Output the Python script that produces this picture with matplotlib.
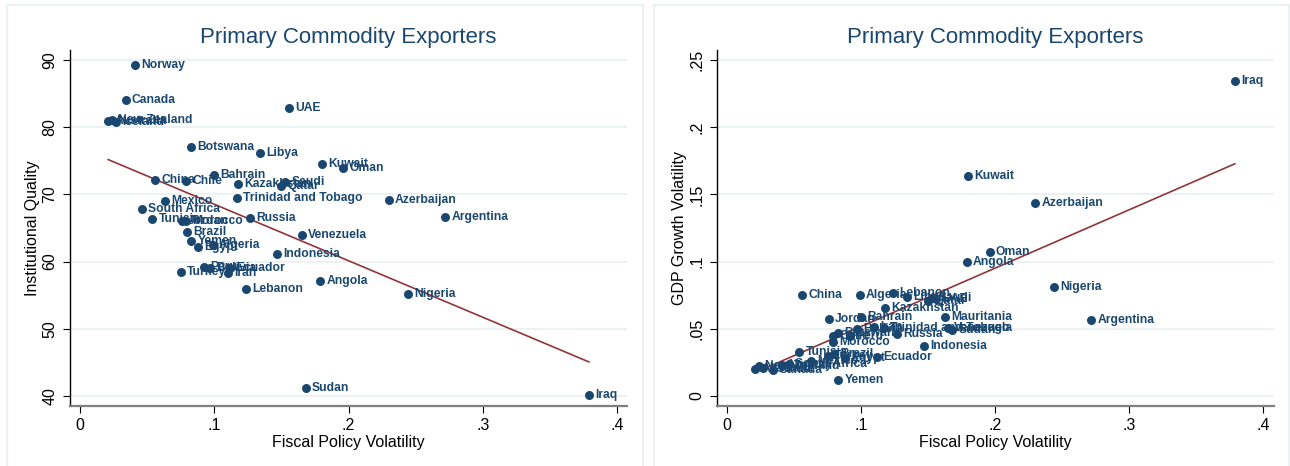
import numpy as np
import matplotlib
matplotlib.use("Agg")
import matplotlib.pyplot as plt
from matplotlib.patches import Rectangle

countries = ["Norway", "Canada", "Australia", "New Zealand", "Iceland", "UAE", "Botswana",
             "Libya", "Kuwait", "Oman", "China", "Chile", "Bahrain", "Kazakhstan", "Saudi",
             "Qatar", "Trinidad and Tobago", "Azerbaijan", "Argentina", "Mexico",
             "South Africa", "Tunisia", "Jordan", "Morocco", "Russia", "Brazil", "Venezuela",
             "Yemen", "Algeria", "Egypt", "Indonesia", "Peru", "Bolivia", "Ecuador",
             "Turkey", "Iran", "Lebanon", "Angola", "Nigeria", "Sudan", "Iraq", "Mauritania"]

fiscal_vol = [0.041, 0.034, 0.021, 0.024, 0.027, 0.156, 0.083,
              0.134, 0.180, 0.196, 0.056, 0.079, 0.100, 0.118, 0.153,
              0.150, 0.117, 0.230, 0.272, 0.063,
              0.046, 0.054, 0.076, 0.079, 0.127, 0.080, 0.165,
              0.083, 0.099, 0.088, 0.147, 0.092, 0.097, 0.112,
              0.075, 0.110, 0.124, 0.179, 0.244, 0.168, 0.379, 0.163]

inst_quality = [89.3, 84.0, 80.9, 81.0, 80.7, 82.9, 77.1,
                76.2, 74.5, 73.9, 72.1, 72.0, 72.9, 71.5, 71.8,
                71.2, 69.5, 69.2, 66.6, 69.0,
                67.9, 66.3, 66.1, 66.0, 66.5, 64.4, 64.0,
                63.1, 62.4, 62.1, 61.1, 59.2, 59.1, 59.0,
                58.4, 58.3, 55.9, 57.1, 55.2, 41.2, 40.1, np.nan]

gdp_vol = [0.023, 0.019, 0.020, 0.022, 0.021, 0.072, 0.047,
           0.074, 0.164, 0.107, 0.075, 0.045, 0.059, 0.0655, 0.073,
           0.071, 0.0506, 0.1436, 0.0565, 0.026,
           0.024, 0.0327, 0.057, 0.040, 0.046, 0.031, 0.0505,
           0.012, 0.075, 0.028, 0.037, 0.045, 0.050, 0.029,
           0.030, 0.051, 0.077, 0.0997, 0.081, 0.049, 0.2346, 0.0588]

# linear fit coefficients (intercept, slope)
fit_inst = (76.95, -84.1)
fit_gdp = (0.0083, 0.434)

x_ticks = [0, 0.1, 0.2, 0.3, 0.4]
x_tick_labels = ["0", ".1", ".2", ".3", ".4"]
inst_ticks = [40, 50, 60, 70, 80, 90]
inst_tick_labels = ["40", "50", "60", "70", "80", "90"]
gdp_ticks = [0, 0.05, 0.1, 0.15, 0.2, 0.25]
gdp_tick_labels = ["0", ".05", ".1", ".15", ".2", ".25"]

title = "Primary Commodity Exporters"
xlabel = "Fiscal Policy Volatility"
ylabel_left = "Institutional Quality"
ylabel_right = "GDP Growth Volatility"

NAVY = "#1a476f"
MAROON = "#90353b"
GRID = "#eaf2f3"
FONT = "Liberation Sans"

W, H = 1290, 466
fig = plt.figure(figsize=(W / 100, H / 100), dpi=100)
fig.patch.set_facecolor("white")

# panel borders
for (x0, x1) in [(7, 643), (654, 1289)]:
    fig.patches.append(Rectangle((x0 / W, -0.02), (x1 - x0) / W, (H - 5) / H + 0.02,
                                 transform=fig.transFigure, fill=False,
                                 edgecolor=GRID, lw=1.5))


def make_panel(left_px, right_px, y, ticks, tick_labels, ylim, fit, ylabel, xlim):
    ax = fig.add_axes([left_px / W, (H - 406) / H, (right_px - left_px) / W, (406 - 50) / H])
    ax.set_xlim(*xlim)
    ax.set_ylim(*ylim)
    x = np.asarray(fiscal_vol, float)
    yy = np.asarray(y, float)
    ok = ~np.isnan(yy)
    ax.scatter(x[ok], yy[ok], s=42, color=NAVY, zorder=3, linewidths=0)
    for name, xi, yi in zip(countries, x, yy):
        if np.isnan(yi):
            continue
        ax.annotate(name, (xi, yi), xytext=(4.5, 0), textcoords="offset points",
                    va="center", ha="left", fontsize=8.7, color=NAVY,
                    family=FONT, fontweight="bold", zorder=4)
    xs = np.array([x[ok].min(), x[ok].max()])
    ax.plot(xs, fit[0] + fit[1] * xs, color=MAROON, lw=1.2, zorder=2)
    ax.set_xticks(x_ticks)
    ax.set_xticklabels(x_tick_labels, family=FONT, fontsize=11.5)
    ax.set_yticks(ticks)
    ax.set_yticklabels(tick_labels, family=FONT, fontsize=11.5, rotation=90, va="center")
    ax.yaxis.grid(True, color=GRID, lw=1.5, zorder=0)
    ax.set_axisbelow(True)
    for s in ("top", "right"):
        ax.spines[s].set_visible(False)
    ax.spines["left"].set_color("black")
    ax.spines["left"].set_linewidth(1.0)
    ax.spines["bottom"].set_color("#7f7f7f")
    ax.spines["bottom"].set_linewidth(1.6)
    ax.tick_params(axis="both", length=5, width=0.8, color="black", pad=4)
    ax.set_xlabel(xlabel, family=FONT, fontsize=11.5, labelpad=1)
    ax.set_ylabel(ylabel, family=FONT, fontsize=11.5, labelpad=2)
    ax.set_title(title, family=FONT, fontsize=16, color=NAVY, pad=5)
    return ax


make_panel(70, 627, inst_quality, inst_ticks, inst_tick_labels,
           (40 - 10 / 6.72, 90 + 10 / 6.72), fit_inst, ylabel_left,
           (-10 / 1342.5, 0.4 + 10 / 1342.5))
make_panel(717, 1274, gdp_vol, gdp_ticks, gdp_tick_labels,
           (-10 / 1344, 0.25 + 10 / 1344), fit_gdp, ylabel_right,
           (-10 / 1340, 0.4 + 11 / 1340))

fig.savefig("out.png", dpi=100, facecolor="white")
